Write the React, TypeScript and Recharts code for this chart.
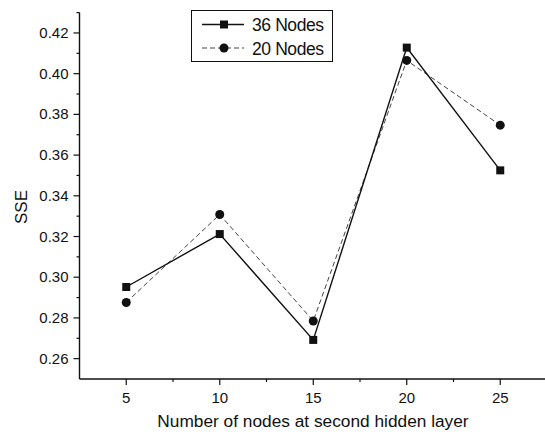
import React from 'react';
import { LineChart, Line, XAxis, YAxis } from 'recharts';

// Hidden-layer sizes on the x axis
const hiddenNodes = [5, 10, 15, 20, 25];
// SSE for each configuration of the first hidden layer
const sse36 = [0.2952, 0.3212, 0.2692, 0.4128, 0.3525];
const sse20 = [0.2876, 0.3308, 0.2785, 0.4065, 0.3747];

const xTicks = [5, 7.5, 10, 12.5, 15, 17.5, 20, 22.5, 25];
const yTicks = [0.26, 0.27, 0.28, 0.29, 0.3, 0.31, 0.32, 0.33, 0.34, 0.35, 0.36, 0.37, 0.38, 0.39, 0.4, 0.41, 0.42, 0.43];
const yTickLabels = ['0.26', '0.27', '0.28', '0.29', '0.30', '0.31', '0.32', '0.33', '0.34', '0.35', '0.36', '0.37', '0.38', '0.39', '0.40', '0.41', '0.42', '0.43'];

const FONT = '"Liberation Sans", Arial, Helvetica, sans-serif';

const data = hiddenNodes.map((n, i) => ({ n, s36: sse36[i], s20: sse20[i] }));

const series = [
  { key: 's36', name: '36 Nodes', stroke: '#111', width: 1.4, dash: undefined as string | undefined, shape: 'square' },
  { key: 's20', name: '20 Nodes', stroke: '#444', width: 1, dash: '5 3' as string | undefined, shape: 'circle' },
];

const SquareDot = (props: any) => {
  const { cx, cy } = props;
  if (cx == null || cy == null) return null;
  return <rect x={cx - 4} y={cy - 4} width={8} height={8} fill="#111" />;
};

const CircleDot = (props: any) => {
  const { cx, cy } = props;
  if (cx == null || cy == null) return null;
  return <circle cx={cx} cy={cy} r={4.5} fill="#111" />;
};

const XTick = (props: any) => {
  const { x, y, payload } = props;
  const v = payload.value as number;
  const major = v % 5 === 0;
  return (
    <g>
      <line x1={x} y1={y} x2={x} y2={y + (major ? 6 : 3)} stroke="#111" strokeWidth={1.2} />
      {major && (
        <text x={x} y={y + 24} textAnchor="middle" fontSize={15} fontFamily={FONT} fill="#111">
          {v}
        </text>
      )}
    </g>
  );
};

const YTick = (props: any) => {
  const { x, y, payload, index } = props;
  const v = payload.value as number;
  const major = Math.round(v * 100) % 2 === 0;
  return (
    <g>
      <line x1={x} y1={y} x2={x - (major ? 6 : 3)} y2={y} stroke="#111" strokeWidth={1.2} />
      {major && (
        <text x={x - 11} y={y + 5} textAnchor="end" fontSize={15} fontFamily={FONT} fill="#111">
          {yTickLabels[index] ?? v.toFixed(2)}
        </text>
      )}
    </g>
  );
};

const Legend = () => (
  <div
    style={{
      position: 'absolute',
      left: 191,
      top: 10,
      width: 140,
      height: 50,
      border: '1.3px solid #111',
      background: '#fff',
    }}
  >
    <svg width={140} height={50}>
      {series.map((s, i) => {
        const cy = 13.5 + i * 23.5;
        return (
          <g key={s.key}>
            <line x1={10} y1={cy} x2={52} y2={cy} stroke={s.stroke} strokeWidth={s.width} strokeDasharray={s.dash} />
            {s.shape === 'square' ? (
              <rect x={28} y={cy - 4} width={8} height={8} fill="#111" />
            ) : (
              <circle cx={32} cy={cy} r={4.5} fill="#111" />
            )}
            <text x={60} y={cy + 6.5} fontSize={17.5} fontFamily={FONT} fill="#111" letterSpacing={-0.4}>
              {s.name}
            </text>
          </g>
        );
      })}
    </svg>
  </div>
);

export default function App() {
  return (
    <div style={{ position: 'absolute', left: 0, top: 0, width: 545, height: 436, overflow: 'hidden', background: '#fff' }}>
      <LineChart width={550} height={436} data={data} margin={{ top: 12.6, right: 3, bottom: 47, left: 69.5 }}>
        <XAxis
          dataKey="n"
          type="number"
          domain={[2.5, 27.5]}
          ticks={xTicks}
          interval={0}
          height={10}
          tickSize={0}
          tickMargin={0}
          tick={<XTick />}
          axisLine={{ stroke: '#111', strokeWidth: 1.4 }}
          allowDataOverflow
          label={{
            content: () => (
              <text x={313} y={427} textAnchor="middle" fontSize={17.3} fontFamily={FONT} fill="#111">
                Number of nodes at second hidden layer
              </text>
            ),
          }}
        />
        <YAxis
          type="number"
          domain={[0.25, 0.43]}
          ticks={yTicks}
          interval={0}
          width={10}
          tickSize={0}
          tickMargin={0}
          tick={<YTick />}
          axisLine={{ stroke: '#111', strokeWidth: 1.4 }}
          allowDataOverflow
          label={{
            content: () => (
              <text
                x={21}
                y={207}
                transform="rotate(-90 21 207)"
                textAnchor="middle"
                dominantBaseline="central"
                fontSize={17}
                fontFamily={FONT}
                fill="#111"
              >
                SSE
              </text>
            ),
          }}
        />
        <Line
          dataKey="s20"
          stroke={series[1].stroke}
          strokeWidth={series[1].width}
          strokeDasharray={series[1].dash}
          dot={<CircleDot />}
          activeDot={false}
          isAnimationActive={false}
        />
        <Line
          dataKey="s36"
          stroke={series[0].stroke}
          strokeWidth={series[0].width}
          dot={<SquareDot />}
          activeDot={false}
          isAnimationActive={false}
        />
      </LineChart>
      <Legend />
    </div>
  );
}
